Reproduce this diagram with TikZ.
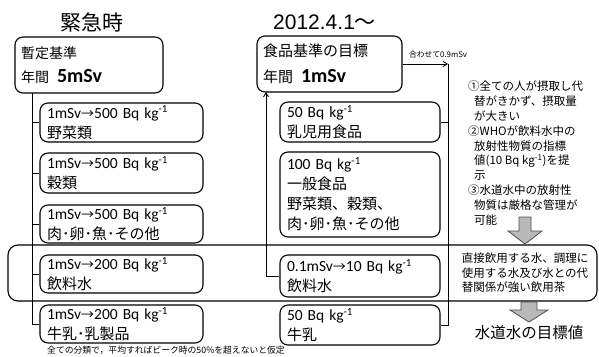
\documentclass[tikz,border=0pt]{standalone}
\usepackage{fontspec}
\setmainfont{Noto Sans CJK JP}
\newfontfamily\latf{Carlito}
\newfontfamily\arialf{Liberation Sans}
\usetikzlibrary{arrows.meta}
\newcommand\fsLat{\fontsize{15.5}{20}\selectfont\latf}
\newcommand\rarr{{\rmfamily\fontsize{13}{20}\selectfont →}}
\newcommand\fsBig{\fontsize{20}{22}\selectfont\latf\bfseries}
\begin{document}
\begin{tikzpicture}[x=1pt,y=-1pt,
  box/.style={draw, line width=1.1pt, rounded corners=8pt, inner sep=0pt, align=left,
    font=\fontsize{15}{20}\selectfont},
  conn/.style={line width=0.9pt},
  arr/.style={line width=0.9pt, -{Straight Barb[length=4pt,width=5pt]}},
  frame/.style={line width=1.1pt, rounded corners=10pt},
  barrow/.style={fill=gray!55, draw=gray!60!black, line width=0.8pt},
  title/.style={inner sep=0pt, anchor=west, font=\fontsize{21}{24}\selectfont},
  plain/.style={inner sep=0pt, align=left}]
\path[use as bounding box] (0,0) rectangle (599,356);

% titles
\node[title] (t1) at (60,22) {緊急時};
\node[title] (t2) at (273,22) {{\arialf 2012.4.1}～};

% long frame around drinking water row
\draw[frame] (8,245) rectangle (597,301);

% left column
\node[box, minimum width=148, minimum height=56, text width=136,
  font=\fontsize{14}{24}\selectfont] (tl) at (89,65)
  {暫定基準\\年間\hspace{8pt}{\fsBig 5mSv}};
\node[box, minimum width=163, minimum height=39, text width=149] (l1) at (121.5,122.5)
  {{\fsLat 1mSv\rarr 500 Bq kg\textsuperscript{-1}}\\野菜類};
\node[box, minimum width=163, minimum height=40, text width=149] (l2) at (121.5,173)
  {{\fsLat 1mSv\rarr 500 Bq kg\textsuperscript{-1}}\\穀類};
\node[box, minimum width=163, minimum height=38, text width=149] (l3) at (121.5,224)
  {{\fsLat 1mSv\rarr 500 Bq kg\textsuperscript{-1}}\\肉･卵･魚･その他};
\node[box, fill=white, minimum width=163, minimum height=38, text width=149] (l4) at (121.5,274)
  {{\fsLat 1mSv\rarr 200 Bq kg\textsuperscript{-1}}\\飲料水};
\node[box, minimum width=163, minimum height=38, text width=149] (l5) at (121.5,324)
  {{\fsLat 1mSv\rarr 200 Bq kg\textsuperscript{-1}}\\牛乳･乳製品};

\coordinate (lv) at (32,93);
\draw[conn] (lv) |- (l5.west);
\foreach \n in {l1,l2,l3,l4} \draw[conn] (\n.west) -- (\n.west -| lv);

% middle column
\node[box, minimum width=145, minimum height=56, text width=133,
  font=\fontsize{15}{26}\selectfont] (tm) at (329.5,64)
  {食品基準の目標\\年間\hspace{8pt}{\fsBig 1mSv}};
\node[box, minimum width=160, minimum height=40, text width=146] (r1) at (360,122)
  {{\fsLat 50 Bq kg\textsuperscript{-1}}\\乳児用食品};
\node[box, minimum width=160, minimum height=85, text width=146] (r2) at (360,194.5)
  {{\fsLat 100 Bq kg\textsuperscript{-1}}\\一般食品\\野菜類、穀類、\\肉･卵･魚･その他};
\node[box, fill=white, minimum width=160, minimum height=42, text width=146] (r3) at (360,276)
  {{\fsLat 0.1mSv\rarr 10 Bq kg\textsuperscript{-1}}\\飲料水};
\node[box, minimum width=160, minimum height=40, text width=146] (r4) at (360,325)
  {{\fsLat 50 Bq kg\textsuperscript{-1}}\\牛乳};

\coordinate (mv) at (266,92);
\draw[arr] (r3.west) -| (mv);

\coordinate (rv) at (448,64);
\draw[arr] (tm.east) -- (rv);
\draw[conn] (rv) |- (r4.east);
\draw[conn] (r1.east) -- (r1.east -| rv);
\node[plain, font=\fontsize{7.8}{10}\selectfont] (sum) at (438,55) {合わせて0.9mSv};

% right notes
\node[plain, anchor=north west, font=\fontsize{11.5}{14.8}\selectfont] (notes) at (468,81)
  {①全ての人が摂取し代\\
   \hspace*{6pt}替がきかず、摂取量\\
   \hspace*{6pt}が大きい\\
   ②WHOが飲料水中の\\
   \hspace*{6pt}放射性物質の指標\\
   \hspace*{6pt}値(10 Bq kg\textsuperscript{-1})を提\\
   \hspace*{6pt}示\\
   ③水道水中の放射性\\
   \hspace*{6pt}物質は厳格な管理が\\
   \hspace*{6pt}可能};

\filldraw[barrow] (519,217) -- (531,217) -- (531,231) -- (542,231) -- (525,244)
  -- (508,231) -- (519,231) -- cycle;

\node[plain, font=\fontsize{11.5}{14.5}\selectfont] (water) at (525,273)
  {直接飲用する水、調理に\\使用する水及び水との代\\替関係が強い飲用茶};

\filldraw[barrow] (521,302) -- (537,302) -- (537,310) -- (548,310) -- (529,322)
  -- (510,310) -- (521,310) -- cycle;

\node[plain, font=\fontsize{15.5}{18}\selectfont] (goal) at (529,333) {水道水の目標値};

\node[plain, font=\fontsize{8.8}{10}\selectfont] (foot) at (166,350)
  {全ての分類で，平均すればピーク時の50\%を超えないと仮定};
\end{tikzpicture}
\end{document}
